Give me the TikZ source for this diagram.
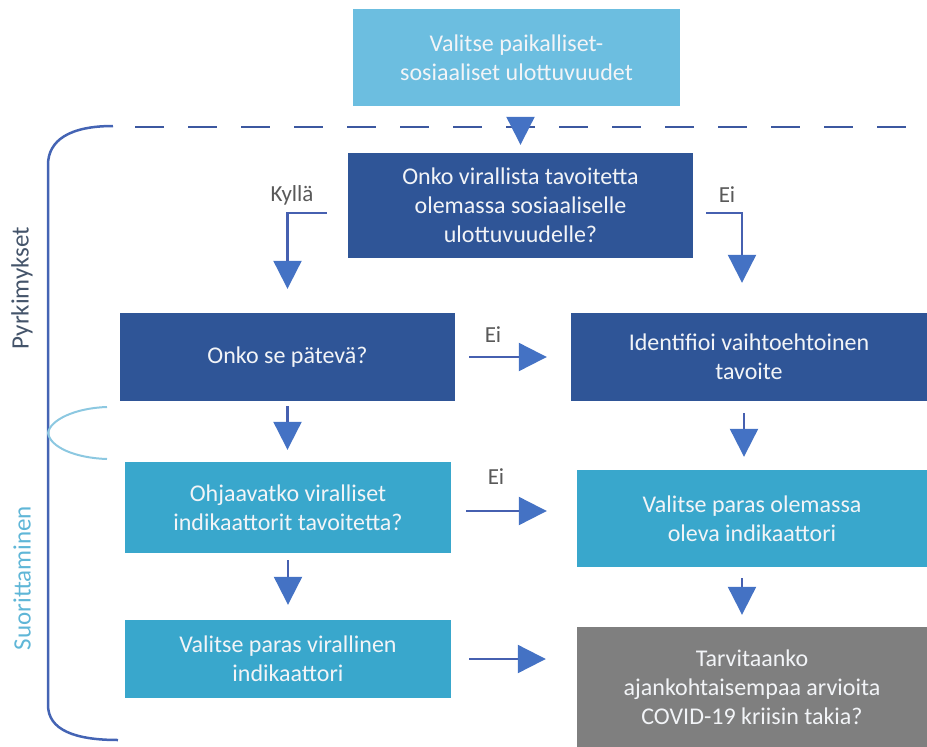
\documentclass[tikz,border=0pt]{standalone}
\usepackage{fontspec}
\setmainfont{Carlito}
\usetikzlibrary{arrows.meta,calc}
\definecolor{topblue}{RGB}{108,190,224}
\definecolor{darkblue}{RGB}{47,85,151}
\definecolor{midblue}{RGB}{57,167,204}
\definecolor{boxgray}{RGB}{127,127,127}
\definecolor{arrowblue}{RGB}{68,114,196}
\definecolor{stemblue}{RGB}{70,96,176}
\definecolor{dashblue}{RGB}{60,88,160}
\definecolor{lblgray}{RGB}{89,89,89}
\definecolor{boxtext}{RGB}{242,244,247}
\definecolor{slate}{RGB}{68,84,106}
\definecolor{lightcyan}{RGB}{95,182,215}
\definecolor{cuspblue}{RGB}{140,200,225}
\definecolor{bracketblue}{RGB}{68,100,180}
\begin{document}
\begin{tikzpicture}[x=1pt,y=-1pt,
  flowbox/.style={rectangle, inner sep=0pt, align=center, text=boxtext, font=\fontsize{24}{29}\selectfont},
  conn/.style={draw=stemblue, line width=2.2pt, -{Triangle[length=28pt,width=28pt,fill=arrowblue,color=arrowblue]}},
  lbl/.style={text=lblgray, font=\fontsize{23}{27}\selectfont, inner sep=0pt},
  side/.style={rotate=90, inner sep=0pt, font=\fontsize{25}{29}\selectfont}]
\useasboundingbox (0,0) rectangle (927,747);

% boxes
\node[flowbox, fill=topblue, minimum width=327pt, minimum height=97pt] (top) at (516.5,57.5) {Valitse paikalliset-\\sosiaaliset ulottuvuudet};
\node[flowbox, fill=darkblue, minimum width=345pt, minimum height=105pt] (q1) at (520.5,205.5) {Onko virallista tavoitetta\\olemassa sosiaaliselle\\ulottuvuudelle?};
\node[flowbox, fill=darkblue, minimum width=335pt, minimum height=88pt] (valid) at (287.5,357) {Onko se pätevä?};
\node[flowbox, fill=darkblue, minimum width=356pt, minimum height=88pt] (ident) at (749,357) {Identifioi vaihtoehtoinen\\tavoite};
\node[flowbox, fill=midblue, minimum width=326pt, minimum height=91pt] (ohj) at (288,507.5) {Ohjaavatko viralliset\\indikaattorit tavoitetta?};
\node[flowbox, fill=midblue, minimum width=350pt, minimum height=97pt] (olem) at (752,518.5) {Valitse paras olemassa\\oleva indikaattori};
\node[flowbox, fill=midblue, minimum width=326pt, minimum height=78pt] (vir) at (288,659) {Valitse paras virallinen\\indikaattori};
\node[flowbox, fill=boxgray, minimum width=350pt, minimum height=120pt] (gray) at (752,687) {Tarvitaanko\\ajankohtaisempaa arvioita\\COVID-19 kriisin takia?};

% dashed separator
\coordinate (dashL) at (135,127);
\coordinate (dashR) at (927,127);
\draw[dashblue, line width=2.5pt, dash pattern=on 29pt off 24pt] (dashL) -- (dashR);

% bracket
\draw[bracketblue, line width=2.5pt] (113,126) .. controls (70,126) and (48,140) .. (48,165) -- (48,705) .. controls (48,730) and (75,740) .. (118,740);
\draw[cuspblue, line width=2pt] (107,407) .. controls (75,408) and (50,420) .. (48,433) .. controls (50,447) and (75,458) .. (107,459);
\node[side, text=slate] (pyr) at (22,288) {Pyrkimykset};
\node[side, text=lightcyan] (suo) at (22,578) {Suorittaminen};

% connectors
\draw[conn, shorten <=11pt, shorten >=8pt] (top.south -| q1.north) -- (q1.north);
\draw[conn, shorten <=21pt, shorten >=24pt] ([yshift=-7.5pt]q1.west) -| (valid.north);
\draw[conn, shorten <=13pt, shorten >=30pt] ([yshift=-7.5pt]q1.east) -| ([xshift=-7pt]ident.north);
\draw[conn, shorten <=14pt, shorten >=24pt] (valid.east) -- (valid.east -| ident.west);
\draw[conn, shorten <=5pt, shorten >=12pt] (valid.south) -- (valid.south |- ohj.north);
\draw[conn, shorten <=12pt, shorten >=13pt] ($(ident.south)+(-5,0)$) -- ($(ident.south |- olem.north)+(-5,0)$);
\draw[conn, shorten <=15pt, shorten >=30pt] ($(ohj.east)+(0,3.5)$) -- ($(ohj.east -| olem.west)+(0,3.5)$);
\draw[conn, shorten <=7pt, shorten >=15pt] (ohj.south) -- (ohj.south |- vir.north);
\draw[conn, shorten <=11pt, shorten >=12pt] ($(olem.south)+(-10,0)$) -- ($(olem.south |- gray.north)+(-10,0)$);
\draw[conn, shorten <=18pt, shorten >=31pt] (vir.east) -- (vir.east -| gray.west);

% labels
\node[lbl] (kylla) at (292,195) {Kyllä};
\node[lbl] (ei1) at (727,195) {Ei};
\node[lbl] (ei2) at (493,335) {Ei};
\node[lbl] (ei3) at (496,477) {Ei};
\end{tikzpicture}
\end{document}
